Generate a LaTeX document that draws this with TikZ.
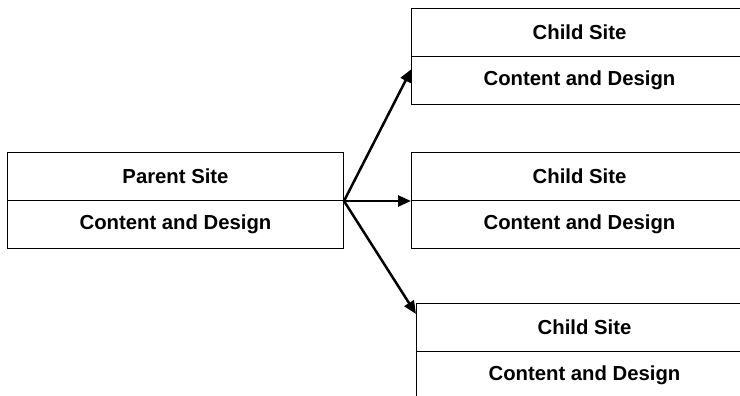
\documentclass[tikz,border=0pt]{standalone}
\usepackage{fontspec}
\setmainfont{Liberation Sans}
\usetikzlibrary{arrows.meta}
\begin{document}
\begin{tikzpicture}[x=1pt,y=-1pt,
  half/.style={draw=black,line width=1pt,minimum width=336pt,minimum height=48pt,inner sep=0pt,anchor=north west,font=\bfseries\fontsize{20.3}{23}\selectfont},
  link/.style={line width=2.5pt,-{Triangle[length=13pt,width=11pt]}}]
\useasboundingbox (0,0) rectangle (740,396);
\clip (0,0) rectangle (740,396);
\node[half] (pt) at (7,152) {Parent Site};
\node[half] (pb) at (7,200) {Content and Design};
\node[half] (at) at (411,8) {Child Site};
\node[half] (ab) at (411,56) {Content and Design};
\node[half] (bt) at (411,152) {Child Site};
\node[half] (bb) at (411,200) {Content and Design};
\node[half] (ct) at (416,303) {Child Site};
\node[half] (cb) at (416,351) {Content and Design};
\coordinate (src) at (pt.south east);
\coordinate (ta) at (411.5,69);
\coordinate (tc) at (416,314);
\draw[link] (src) -- (ta);
\draw[link] (src) -- (bt.south west);
\draw[link] (src) -- (tc);
\end{tikzpicture}
\end{document}
